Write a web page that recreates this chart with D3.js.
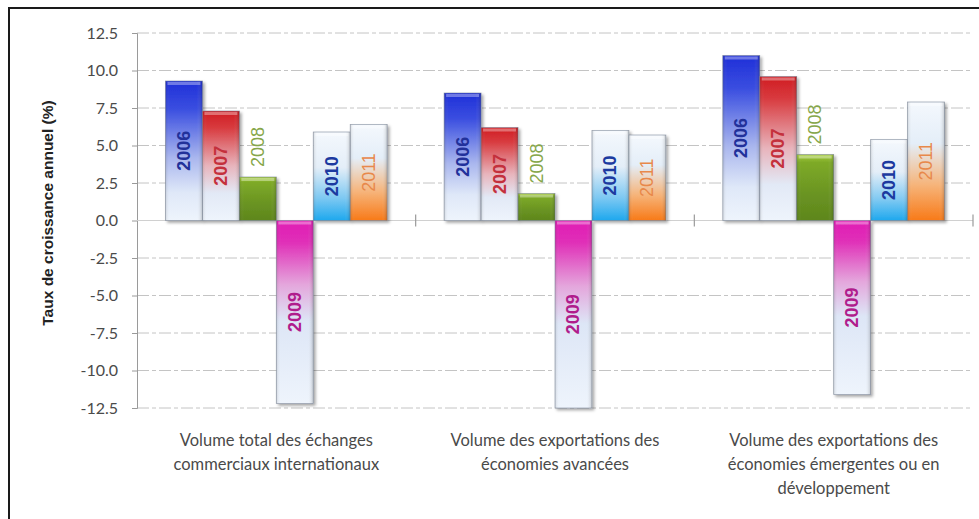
<!DOCTYPE html>
<html><head><meta charset="utf-8">
<script src="https://cdn.jsdelivr.net/npm/d3@7"></script>
<style>
html,body{margin:0;padding:0;background:#fff;}
svg{display:block;}
</style></head>
<body>
<svg id="chart" width="979" height="519"></svg>
<script>
const categories = [
  ["Volume total des échanges", "commerciaux internationaux"],
  ["Volume des exportations des", "économies avancées"],
  ["Volume des exportations des", "économies émergentes ou en", "développement"]
];
const years = ["2006", "2007", "2008", "2009", "2010", "2011"];
const values2006 = [9.3, 8.5, 11.0];
const values2007 = [7.3, 6.2, 9.6];
const values2008 = [2.9, 1.8, 4.4];
const values2009 = [-12.2, -12.5, -11.6];
const values2010 = [5.9, 6.0, 5.4];
const values2011 = [6.4, 5.7, 7.9];
const yTicks = [12.5, 10.0, 7.5, 5.0, 2.5, 0.0, -2.5, -5.0, -7.5, -10.0, -12.5];
const yTitle = "Taux de croissance annuel (%)";

const series = [values2006, values2007, values2008, values2009, values2010, values2011];

const svg = d3.select("#chart");
const plot = {left: 137, right: 973, top: 33, bottom: 408};

const defs = svg.append("defs");
const grads = {
  "2006": [[0,"#1f2fd8"],[0.2,"#3a4ee0"],[0.55,"#a9b6ee"],[0.8,"#dfe8f8"],[1,"#eef4fc"]],
  "2007": [[0,"#d01c22"],[0.15,"#d83a3e"],[0.5,"#e8b4bc"],[0.75,"#e2e9f6"],[1,"#eef4fc"]],
  "2008": [[0,"#a6cc3c"],[0.12,"#7eaa28"],[0.6,"#6a9422"],[1,"#5e861c"]],
  "2009": [[0,"#e01cb4"],[0.12,"#e030b8"],[0.35,"#e4a6dc"],[0.55,"#dde6f6"],[1,"#eef4fc"]],
  "2010": [[0,"#f4f8fd"],[0.4,"#e4eef8"],[0.75,"#7cc8f2"],[1,"#1ea8ee"]],
  "2011": [[0,"#f4f8fd"],[0.35,"#e4eef8"],[0.7,"#f6b47a"],[1,"#f87a18"]]
};
Object.entries(grads).forEach(([k, stops]) => {
  const g = defs.append("linearGradient").attr("id", "g" + k)
    .attr("x1", 0).attr("y1", 0).attr("x2", 0).attr("y2", 1);
  stops.forEach(s => g.append("stop").attr("offset", s[0]).attr("stop-color", s[1]));
});
const side = defs.append("linearGradient").attr("id", "side").attr("x1", 0).attr("x2", 1).attr("y1", 0).attr("y2", 0);
side.append("stop").attr("offset", 0).attr("stop-color", "#000").attr("stop-opacity", 0.12);
side.append("stop").attr("offset", 0.12).attr("stop-color", "#fff").attr("stop-opacity", 0.0);
side.append("stop").attr("offset", 0.85).attr("stop-color", "#fff").attr("stop-opacity", 0.0);
side.append("stop").attr("offset", 1).attr("stop-color", "#000").attr("stop-opacity", 0.18);
const shadow = defs.append("filter").attr("id", "shadow").attr("x", "-20%").attr("y", "-10%").attr("width", "150%").attr("height", "130%");
shadow.append("feDropShadow").attr("dx", 2).attr("dy", 2).attr("stdDeviation", 1.6).attr("flood-color", "#000").attr("flood-opacity", 0.35);

const labelColors = {"2006":"#22319a","2007":"#c4303c","2008":"#86a64a","2009":"#b01c8c","2010":"#1c3aa0","2011":"#e8884a"};
const labelWeights = {"2006":"bold","2007":"bold","2008":"normal","2009":"bold","2010":"bold","2011":"normal"};

svg.append("rect").attr("x", 9).attr("y", 8).attr("width", 990).attr("height", 540)
  .attr("fill", "#fff").attr("stroke", "#1a1a1a").attr("stroke-width", 2);

const y = d3.scaleLinear().domain([-12.5, 12.5]).range([plot.bottom, plot.top]);
const x0 = d3.scaleBand().domain(d3.range(categories.length)).range([plot.left, plot.right]).paddingInner(0).paddingOuter(0);
const x1 = d3.scaleBand().domain(years).range([0, x0.bandwidth()]).paddingInner(0).paddingOuter(0.77);

svg.append("g").selectAll("line").data(yTicks.filter(t => t !== 0)).join("line")
  .attr("x1", plot.left).attr("x2", plot.right)
  .attr("y1", d => y(d)).attr("y2", d => y(d))
  .attr("stroke", "#c4c4c4").attr("stroke-width", 1)
  .attr("stroke-dasharray", "12,3,4,3");

const fmt = d => d.toFixed(1);
const yAxis = d3.axisLeft(y).tickValues(yTicks).tickSize(5).tickPadding(14).tickFormat(fmt);
const ya = svg.append("g").attr("transform", `translate(${plot.left},0)`).call(yAxis);
ya.select(".domain").attr("stroke", "#9a9a9a");
ya.selectAll(".tick line").attr("stroke", "#9a9a9a");
ya.selectAll(".tick text").attr("fill", "#4a4a4a").style("font-family", "Lato, 'Liberation Sans', sans-serif").style("font-size", "16px");

svg.append("line").attr("x1", plot.left).attr("x2", plot.right).attr("y1", y(0)).attr("y2", y(0))
  .attr("stroke", "#d0d0d0").attr("stroke-width", 1);
svg.append("g").selectAll("line").data(d3.range(1, categories.length + 1)).join("line")
  .attr("x1", i => x0(i - 1) + x0.bandwidth()).attr("x2", i => x0(i - 1) + x0.bandwidth())
  .attr("y1", y(0) - 6).attr("y2", y(0) + 6)
  .attr("stroke", "#9a9a9a").attr("stroke-width", 1.2);

const groups = svg.append("g").selectAll("g").data(categories.map((c, i) => i)).join("g")
  .attr("transform", i => `translate(${x0(i)},0)`);

groups.each(function(ci) {
  const g = d3.select(this);
  years.forEach((yr, si) => {
    const v = series[si][ci];
    const bx = x1(yr), bw = x1.bandwidth();
    const top = y(Math.max(0, v)), bot = y(Math.min(0, v));
    const bg = g.append("g");
    bg.append("rect").attr("x", bx).attr("y", top).attr("width", bw).attr("height", bot - top)
      .attr("fill", `url(#g${yr})`).attr("filter", "url(#shadow)")
      .attr("stroke", "#7d8898").attr("stroke-width", 0.8).attr("stroke-opacity", 0.7);
    bg.append("rect").attr("x", bx).attr("y", top).attr("width", bw).attr("height", bot - top)
      .attr("fill", "url(#side)");
    bg.append("rect").attr("x", bx + 2).attr("y", top + 1).attr("width", bw - 4).attr("height", 3)
      .attr("fill", "#fff").attr("opacity", 0.35);
    let ly, anchor;
    if (yr === "2008") { ly = top - 10; anchor = "start"; }
    else { ly = (top + bot) / 2; anchor = "middle"; }
    g.append("text")
      .attr("transform", `translate(${bx + bw / 2},${ly}) rotate(-90)`)
      .attr("text-anchor", anchor).attr("dominant-baseline", "central")
      .attr("fill", labelColors[yr]).attr("font-weight", labelWeights[yr])
      .style("font-family", "'Liberation Sans', Arial, sans-serif").style("font-size", "18px")
      .text(yr);
  });
});

svg.append("g").selectAll("text").data(categories).join("text")
  .attr("x", (d, i) => x0(i) + x0.bandwidth() / 2)
  .attr("y", 446)
  .attr("text-anchor", "middle")
  .attr("fill", "#4a4a4a")
  .style("font-family", "Lato, 'Liberation Sans', sans-serif").style("font-size", "16.5px")
  .each(function(d) {
    d3.select(this).selectAll("tspan").data(d).join("tspan")
      .attr("x", d3.select(this).attr("x"))
      .attr("dy", (t, j) => j === 0 ? 0 : 24)
      .text(t => t);
  });

svg.append("text")
  .attr("transform", `translate(47,213) rotate(-90)`)
  .attr("text-anchor", "middle").attr("dominant-baseline", "central")
  .attr("fill", "#222").attr("font-weight", "bold")
  .style("font-family", "'Liberation Sans', Arial, sans-serif").style("font-size", "15.5px")
  .text(yTitle);
</script>
</body></html>
